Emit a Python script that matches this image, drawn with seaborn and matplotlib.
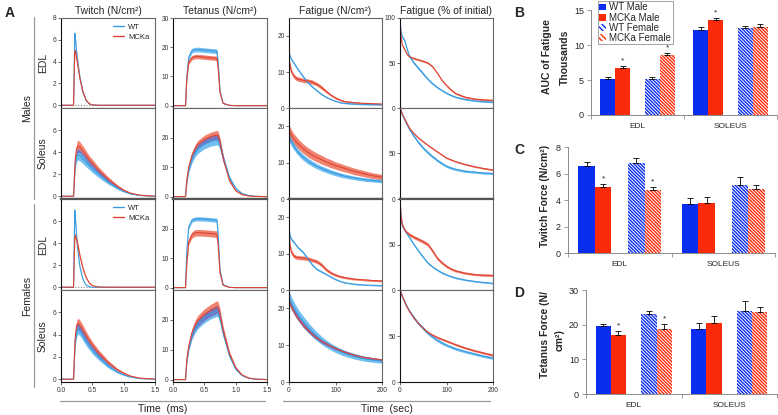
import numpy as np
import pandas as pd
import matplotlib
matplotlib.use("Agg")
import matplotlib.pyplot as plt
from matplotlib.lines import Line2D
from matplotlib.patches import Patch
import seaborn as sns

W, H = 778, 415

# ---------------- panel A : time grids ----------------
t_tw = [0, 0.2, 0.21, 0.22, 0.23, 0.25, 0.27, 0.3, 0.35, 0.4, 0.45, 0.5, 0.6, 0.75, 0.9, 1.0, 1.1, 1.25, 1.5]
t_tet = [0, 0.2, 0.22, 0.25, 0.3, 0.35, 0.4, 0.5, 0.6, 0.7, 0.72, 0.75, 0.8, 0.9, 1.0, 1.1, 1.2, 1.3, 1.5]
t_fat = [0, 2, 5, 10, 15, 20, 30, 40, 50, 60, 70, 80, 90, 100, 110, 120, 140, 160, 180, 200]

# twitch (N/cm2)
wt_tw_edl_m = [0, 0, 3.0, 6.6, 6.1, 4.8, 3.9, 2.6, 1.2, 0.45, 0.12, 0.03, 0, 0, 0, 0, 0, 0, 0]
wt_tw_edl_m_sd = [0, 0, 0.15, 0.2, 0.2, 0.15, 0.12, 0.1, 0.06, 0.03, 0.02, 0, 0, 0, 0, 0, 0, 0, 0]
mk_tw_edl_m = [0, 0, 2.5, 4.9, 5.0, 4.3, 3.6, 2.5, 1.2, 0.5, 0.15, 0.04, 0, 0, 0, 0, 0, 0, 0]
mk_tw_edl_m_sd = [0, 0, 0.15, 0.2, 0.2, 0.17, 0.15, 0.1, 0.06, 0.03, 0.02, 0, 0, 0, 0, 0, 0, 0, 0]

wt_tw_sol_m = [0, 0, 1.0, 2.2, 3.0, 3.6, 3.8, 3.7, 3.4, 3.1, 2.8, 2.5, 2.0, 1.3, 0.75, 0.45, 0.25, 0.08, 0]
wt_tw_sol_m_sd = [0, 0, 0.15, 0.3, 0.4, 0.5, 0.5, 0.5, 0.45, 0.42, 0.38, 0.35, 0.3, 0.2, 0.12, 0.08, 0.05, 0.02, 0]
mk_tw_sol_m = [0, 0, 1.2, 2.6, 3.5, 4.3, 4.55, 4.45, 4.1, 3.7, 3.3, 3.0, 2.35, 1.55, 0.9, 0.55, 0.3, 0.1, 0]
mk_tw_sol_m_sd = [0, 0, 0.15, 0.3, 0.4, 0.5, 0.55, 0.5, 0.45, 0.42, 0.38, 0.35, 0.3, 0.22, 0.14, 0.09, 0.05, 0.02, 0]

wt_tw_edl_f = [0, 0, 3.5, 7.0, 6.3, 4.5, 3.3, 1.9, 0.7, 0.2, 0.05, 0, 0, 0, 0, 0, 0, 0, 0]
wt_tw_edl_f_sd = [0, 0, 0.15, 0.2, 0.2, 0.15, 0.12, 0.1, 0.05, 0.02, 0.01, 0, 0, 0, 0, 0, 0, 0, 0]
mk_tw_edl_f = [0, 0, 2.3, 4.5, 4.7, 4.3, 3.8, 2.9, 1.7, 0.9, 0.4, 0.15, 0.02, 0, 0, 0, 0, 0, 0]
mk_tw_edl_f_sd = [0, 0, 0.15, 0.25, 0.25, 0.22, 0.2, 0.17, 0.12, 0.08, 0.05, 0.02, 0, 0, 0, 0, 0, 0, 0]

wt_tw_sol_f = [0, 0, 1.2, 2.6, 3.5, 4.2, 4.5, 4.35, 3.9, 3.4, 3.0, 2.6, 2.0, 1.2, 0.65, 0.4, 0.22, 0.07, 0]
wt_tw_sol_f_sd = [0, 0, 0.15, 0.3, 0.4, 0.45, 0.45, 0.45, 0.42, 0.38, 0.35, 0.32, 0.27, 0.18, 0.1, 0.07, 0.04, 0.02, 0]
mk_tw_sol_f = [0, 0, 1.4, 3.0, 4.0, 4.8, 5.0, 4.85, 4.4, 3.9, 3.45, 3.05, 2.35, 1.5, 0.85, 0.55, 0.3, 0.1, 0]
mk_tw_sol_f_sd = [0, 0, 0.15, 0.3, 0.4, 0.45, 0.48, 0.47, 0.44, 0.4, 0.37, 0.33, 0.28, 0.2, 0.12, 0.08, 0.05, 0.02, 0]

# tetanus (N/cm2)
wt_tet_edl_m = [0, 0, 10.0, 16.5, 18.8, 19.2, 19.2, 19.0, 18.8, 18.6, 15.0, 5.0, 0.8, 0.1, 0, 0, 0, 0, 0]
wt_tet_edl_m_sd = [0, 0, 0.5, 0.8, 0.8, 0.8, 0.8, 0.8, 0.8, 0.8, 0.6, 0.2, 0.05, 0, 0, 0, 0, 0, 0]
mk_tet_edl_m = [0, 0, 9.0, 14.8, 16.4, 16.8, 16.8, 16.6, 16.4, 16.2, 13.0, 4.5, 0.8, 0.1, 0, 0, 0, 0, 0]
mk_tet_edl_m_sd = [0, 0, 0.4, 0.7, 0.75, 0.75, 0.75, 0.75, 0.75, 0.75, 0.6, 0.2, 0.05, 0, 0, 0, 0, 0, 0]

wt_tet_sol_m = [0, 0, 5.0, 9.0, 12.5, 14.8, 16.2, 17.8, 18.8, 19.2, 19.0, 17.5, 13.0, 6.5, 2.8, 1.1, 0.45, 0.15, 0]
wt_tet_sol_m_sd = [0, 0, 0.5, 0.9, 1.2, 1.4, 1.5, 1.6, 1.7, 1.7, 1.7, 1.6, 1.2, 0.6, 0.3, 0.12, 0.05, 0.02, 0]
mk_tet_sol_m = [0, 0, 5.5, 10.0, 13.8, 16.2, 17.7, 19.3, 20.3, 20.9, 20.6, 18.5, 13.0, 5.5, 2.0, 0.7, 0.25, 0.08, 0]
mk_tet_sol_m_sd = [0, 0, 0.5, 0.9, 1.2, 1.3, 1.4, 1.5, 1.5, 1.5, 1.5, 1.4, 1.0, 0.5, 0.2, 0.08, 0.03, 0.01, 0]

wt_tet_edl_f = [0, 0, 12.0, 20.5, 22.8, 23.2, 23.3, 23.2, 23.0, 22.8, 18.0, 6.0, 1.0, 0.1, 0, 0, 0, 0, 0]
wt_tet_edl_f_sd = [0, 0, 0.5, 0.7, 0.7, 0.7, 0.7, 0.7, 0.7, 0.7, 0.6, 0.2, 0.05, 0, 0, 0, 0, 0, 0]
mk_tet_edl_f = [0, 0, 8.0, 15.5, 17.8, 18.5, 18.6, 18.5, 18.3, 18.1, 14.5, 5.0, 0.8, 0.1, 0, 0, 0, 0, 0]
mk_tet_edl_f_sd = [0, 0, 0.6, 1.0, 1.1, 1.1, 1.1, 1.1, 1.1, 1.1, 0.9, 0.3, 0.05, 0, 0, 0, 0, 0, 0]

wt_tet_sol_f = [0, 0, 6.0, 10.5, 14.5, 17.0, 18.6, 20.6, 22.0, 23.0, 22.6, 20.5, 15.5, 8.0, 3.5, 1.4, 0.5, 0.2, 0]
wt_tet_sol_f_sd = [0, 0, 0.5, 0.9, 1.2, 1.4, 1.5, 1.6, 1.7, 1.8, 1.8, 1.6, 1.2, 0.6, 0.3, 0.12, 0.05, 0.02, 0]
mk_tet_sol_f = [0, 0, 6.5, 11.2, 15.5, 18.2, 19.8, 21.8, 23.2, 24.3, 24.0, 21.8, 16.5, 8.8, 4.0, 1.6, 0.6, 0.2, 0]
mk_tet_sol_f_sd = [0, 0, 0.5, 1.0, 1.4, 1.6, 1.8, 1.9, 2.0, 2.1, 2.1, 1.9, 1.4, 0.7, 0.35, 0.15, 0.06, 0.02, 0]

# fatigue (N/cm2)
wt_fn_edl_m = [15.5, 14.5, 13.6, 12.6, 11.6, 10.6, 8.8, 7.2, 5.9, 4.8, 3.8, 3.0, 2.4, 1.9, 1.5, 1.3, 1.1, 1.0, 0.95, 0.9]
wt_fn_edl_m_sd = [0.5, 0.4, 0.35, 0.3, 0.3, 0.3, 0.3, 0.3, 0.25, 0.25, 0.2, 0.2, 0.15, 0.15, 0.15, 0.15, 0.15, 0.15, 0.15, 0.15]
mk_fn_edl_m = [14.0, 12.0, 10.2, 8.9, 8.3, 8.0, 7.7, 7.5, 7.2, 6.6, 5.7, 4.6, 3.6, 2.8, 2.2, 1.8, 1.5, 1.3, 1.2, 1.1]
mk_fn_edl_m_sd = [0.6, 0.7, 0.7, 0.6, 0.6, 0.6, 0.6, 0.6, 0.6, 0.5, 0.5, 0.4, 0.3, 0.3, 0.25, 0.2, 0.2, 0.2, 0.2, 0.2]

wt_fn_sol_m = [17.0, 16.4, 15.6, 14.5, 13.6, 12.8, 11.5, 10.5, 9.7, 9.0, 8.4, 7.9, 7.4, 7.0, 6.6, 6.3, 5.8, 5.4, 5.1, 4.9]
wt_fn_sol_m_sd = [1.0, 1.0, 0.95, 0.9, 0.9, 0.85, 0.8, 0.8, 0.75, 0.7, 0.7, 0.65, 0.65, 0.6, 0.6, 0.55, 0.5, 0.5, 0.45, 0.45]
mk_fn_sol_m = [19.0, 18.4, 17.6, 16.6, 15.8, 15.1, 13.9, 12.9, 12.1, 11.4, 10.8, 10.2, 9.7, 9.2, 8.8, 8.4, 7.6, 7.0, 6.4, 6.0]
mk_fn_sol_m_sd = [1.5, 1.5, 1.45, 1.4, 1.4, 1.35, 1.3, 1.3, 1.25, 1.2, 1.2, 1.1, 1.1, 1.0, 1.0, 0.95, 0.9, 0.85, 0.8, 0.75]

wt_fn_edl_f = [17.0, 15.0, 14.0, 13.2, 12.4, 11.6, 10.4, 8.7, 6.9, 5.7, 5.0, 4.3, 3.6, 2.9, 2.4, 2.0, 1.6, 1.4, 1.3, 1.2]
wt_fn_edl_f_sd = [0.5, 0.4, 0.35, 0.3, 0.3, 0.3, 0.3, 0.3, 0.3, 0.25, 0.25, 0.2, 0.2, 0.2, 0.15, 0.15, 0.15, 0.15, 0.15, 0.15]
mk_fn_edl_f = [16.0, 12.5, 10.5, 9.4, 9.0, 8.9, 8.8, 8.6, 8.2, 7.8, 6.9, 5.6, 4.7, 4.1, 3.7, 3.4, 3.0, 2.8, 2.6, 2.5]
mk_fn_edl_f_sd = [0.6, 0.6, 0.6, 0.55, 0.55, 0.55, 0.55, 0.55, 0.5, 0.5, 0.5, 0.45, 0.4, 0.35, 0.3, 0.3, 0.25, 0.25, 0.25, 0.25]

wt_fn_sol_f = [23.0, 22.4, 21.5, 20.3, 19.2, 18.2, 16.5, 15.0, 13.6, 12.4, 11.3, 10.4, 9.6, 8.9, 8.3, 7.8, 7.0, 6.4, 6.0, 5.7]
wt_fn_sol_f_sd = [1.7, 1.7, 1.7, 1.6, 1.6, 1.5, 1.5, 1.4, 1.3, 1.2, 1.1, 1.0, 0.95, 0.9, 0.85, 0.8, 0.75, 0.7, 0.65, 0.6]
mk_fn_sol_f = [22.0, 21.4, 20.5, 19.3, 18.2, 17.2, 15.6, 14.2, 13.0, 12.0, 11.1, 10.4, 9.7, 9.1, 8.6, 8.1, 7.3, 6.7, 6.3, 6.0]
mk_fn_sol_f_sd = [0.8, 0.8, 0.75, 0.7, 0.7, 0.65, 0.6, 0.55, 0.5, 0.5, 0.45, 0.45, 0.4, 0.4, 0.35, 0.35, 0.3, 0.3, 0.3, 0.3]

# fatigue (% of initial)
wt_fp_edl_m = [100, 85, 79, 75, 66, 58, 50, 44, 38, 32, 27, 23, 19.5, 16.5, 14, 12, 9.5, 8, 7, 6.5]
wt_fp_edl_m_sd = [1.0, 1.5, 1.5, 1.5, 1.5, 1.5, 1.5, 1.5, 1.5, 1.3, 1.2, 1.1, 1.0, 1.0, 0.9, 0.9, 0.8, 0.8, 0.8, 0.8]
mk_fp_edl_m = [100, 80, 70, 65, 60, 57, 55, 53.5, 52, 50, 46, 39, 31, 25, 20, 16, 12, 10, 9, 8.5]
mk_fp_edl_m_sd = [1.0, 1.0, 1.0, 1.0, 1.0, 1.0, 1.0, 1.0, 1.0, 1.0, 1.0, 1.0, 1.0, 1.0, 1.0, 1.0, 1.0, 1.0, 1.0, 1.0]

wt_fp_sol_m = [100, 97, 93, 87, 82, 77, 69, 62, 56, 51, 46.5, 42.5, 39, 36, 34, 32.5, 30.5, 29.5, 28.5, 28]
wt_fp_sol_m_sd = [0.5, 1.0, 1.2, 1.5, 1.5, 1.6, 1.6, 1.6, 1.6, 1.6, 1.5, 1.5, 1.5, 1.4, 1.4, 1.3, 1.3, 1.2, 1.2, 1.2]
mk_fp_sol_m = [100, 97, 93, 88, 83, 78, 72, 67, 63, 59, 55.5, 52, 48.5, 45, 43, 41, 38, 35.5, 33.5, 32]
mk_fp_sol_m_sd = [0.5, 0.8, 0.8, 0.8, 0.8, 0.8, 0.8, 0.8, 0.8, 0.8, 0.8, 0.8, 0.8, 0.8, 0.8, 0.8, 0.8, 0.8, 0.8, 0.8]

wt_fp_edl_f = [100, 80, 70, 66, 62, 58, 50, 42.7, 36, 29.6, 25.5, 22, 19, 16.7, 14.8, 13.2, 11, 9.5, 8.3, 7.4]
wt_fp_edl_f_sd = [1.0, 1.2, 1.2, 1.2, 1.2, 1.2, 1.2, 1.2, 1.2, 1.1, 1.0, 1.0, 1.0, 0.9, 0.9, 0.9, 0.8, 0.8, 0.8, 0.8]
mk_fp_edl_f = [100, 82, 72, 66, 63, 61, 58, 55.6, 53, 50, 43, 35, 30, 26, 23, 21, 18.5, 17, 16.3, 16]
mk_fp_edl_f_sd = [1.5, 1.8, 1.8, 1.8, 1.8, 1.8, 1.8, 1.8, 1.8, 1.8, 1.8, 1.7, 1.6, 1.5, 1.4, 1.3, 1.2, 1.2, 1.2, 1.2]

wt_fp_sol_f = [100, 97, 93, 87, 82, 77.5, 70, 63.5, 58, 53, 49, 45.5, 42.5, 40, 38, 36, 33, 30.5, 28, 26]
wt_fp_sol_f_sd = [0.5, 1.0, 1.2, 1.4, 1.5, 1.5, 1.6, 1.6, 1.6, 1.6, 1.6, 1.6, 1.6, 1.5, 1.5, 1.5, 1.4, 1.4, 1.4, 1.4]
mk_fp_sol_f = [100, 97, 93, 87, 81.5, 77, 69.5, 63.5, 58.5, 54, 51, 48.5, 46.5, 44.5, 42.5, 40.5, 37, 34, 31.5, 29]
mk_fp_sol_f_sd = [0.5, 0.8, 0.9, 1.0, 1.0, 1.0, 1.0, 1.0, 1.0, 1.1, 1.1, 1.2, 1.2, 1.2, 1.2, 1.2, 1.2, 1.2, 1.2, 1.2]

# ---------------- panels B-D : bar data ----------------
groups = ["WT Male", "MCKa Male", "WT Female", "MCKa Female"]
muscles = ["EDL", "SOLEUS"]

auc_edl = [5.2, 6.7, 5.2, 8.5]
auc_edl_err = [0.2, 0.25, 0.25, 0.35]
auc_sol = [12.1, 13.6, 12.4, 12.6]
auc_sol_err = [0.4, 0.2, 0.3, 0.4]
auc_star_edl = [False, True, False, True]
auc_star_sol = [False, True, False, False]

twf_edl = [6.6, 4.95, 6.8, 4.75]
twf_edl_err = [0.3, 0.25, 0.35, 0.25]
twf_sol = [3.7, 3.8, 5.1, 4.8]
twf_sol_err = [0.45, 0.45, 0.6, 0.3]
twf_star_edl = [False, True, False, True]
twf_star_sol = [False, False, False, False]

tet_edl = [19.6, 17.1, 23.1, 18.7]
tet_edl_err = [0.5, 1.0, 0.7, 1.4]
tet_sol = [18.8, 20.6, 23.9, 23.6]
tet_sol_err = [1.8, 2.0, 2.9, 1.4]
tet_star_edl = [False, True, False, True]
tet_star_sol = [False, False, False, False]

# ---------------- style ----------------
sns.set_theme(style="ticks")
plt.rcParams["font.family"] = ["Liberation Sans", "DejaVu Sans"]
plt.rcParams["hatch.linewidth"] = 1.0

BLUE, BLUE_BAND = "#3b9be0", "#62b8ef"
RED, RED_BAND = "#dd4433", "#ef7460"
PURPLE = "#7a69b8"
BAR_BLUE, BAR_RED = "#0a2df0", "#fb2b0a"
HATCH = "\\" * 10


def rect(x0, y0, x1, y1):
    return [x0 / W, 1 - y1 / H, (x1 - x0) / W, (y1 - y0) / H]


fig = plt.figure(figsize=(W / 100, H / 100), dpi=100)

col_x = [(61, 155), (173, 267), (289, 382), (400, 493)]
row_y = [(18, 108), (108, 199), (199, 290), (290, 382)]

panels = [
    [(t_tw, wt_tw_edl_m, wt_tw_edl_m_sd, mk_tw_edl_m, mk_tw_edl_m_sd),
     (t_tet, wt_tet_edl_m, wt_tet_edl_m_sd, mk_tet_edl_m, mk_tet_edl_m_sd),
     (t_fat, wt_fn_edl_m, wt_fn_edl_m_sd, mk_fn_edl_m, mk_fn_edl_m_sd),
     (t_fat, wt_fp_edl_m, wt_fp_edl_m_sd, mk_fp_edl_m, mk_fp_edl_m_sd)],
    [(t_tw, wt_tw_sol_m, wt_tw_sol_m_sd, mk_tw_sol_m, mk_tw_sol_m_sd),
     (t_tet, wt_tet_sol_m, wt_tet_sol_m_sd, mk_tet_sol_m, mk_tet_sol_m_sd),
     (t_fat, wt_fn_sol_m, wt_fn_sol_m_sd, mk_fn_sol_m, mk_fn_sol_m_sd),
     (t_fat, wt_fp_sol_m, wt_fp_sol_m_sd, mk_fp_sol_m, mk_fp_sol_m_sd)],
    [(t_tw, wt_tw_edl_f, wt_tw_edl_f_sd, mk_tw_edl_f, mk_tw_edl_f_sd),
     (t_tet, wt_tet_edl_f, wt_tet_edl_f_sd, mk_tet_edl_f, mk_tet_edl_f_sd),
     (t_fat, wt_fn_edl_f, wt_fn_edl_f_sd, mk_fn_edl_f, mk_fn_edl_f_sd),
     (t_fat, wt_fp_edl_f, wt_fp_edl_f_sd, mk_fp_edl_f, mk_fp_edl_f_sd)],
    [(t_tw, wt_tw_sol_f, wt_tw_sol_f_sd, mk_tw_sol_f, mk_tw_sol_f_sd),
     (t_tet, wt_tet_sol_f, wt_tet_sol_f_sd, mk_tet_sol_f, mk_tet_sol_f_sd),
     (t_fat, wt_fn_sol_f, wt_fn_sol_f_sd, mk_fn_sol_f, mk_fn_sol_f_sd),
     (t_fat, wt_fp_sol_f, wt_fp_sol_f_sd, mk_fp_sol_f, mk_fp_sol_f_sd)],
]

col_xlim = [(0, 1.5), (0, 1.5), (0, 200), (0, 200)]
col_ylim = [(-0.25, 8), (-0.8, 30), (0, 25), (0, 100)]
col_yticks_top = [[0, 2, 4, 6, 8], [0, 10, 20, 30], [0, 10, 20], [0, 50, 100]]
col_yticks = [[0, 2, 4, 6], [0, 10, 20], [0, 10, 20], [0, 50]]
col_xticks = [[0, 0.5, 1.0, 1.5], [0, 0.5, 1.0, 1.5], [0, 100, 200], [0, 100, 200]]
titles = ["Twitch (N/cm²)", "Tetanus (N/cm²)", "Fatigue (N/cm²)", "Fatigue (% of initial)"]

for r in range(4):
    for c in range(4):
        x0, x1 = col_x[c]
        y0, y1 = row_y[r]
        ax = fig.add_axes(rect(x0, y0, x1, y1))
        t, wt, wsd, mk, msd = panels[r][c]
        t = np.array(t, float)
        wt, wsd = np.array(wt, float), np.array(wsd, float)
        mk, msd = np.array(mk, float), np.array(msd, float)
        ax.fill_between(t, mk - msd, mk + msd, color=RED_BAND, lw=0, alpha=0.9)
        ax.fill_between(t, wt - wsd, wt + wsd, color=BLUE_BAND, lw=0, alpha=0.9)
        lo = np.maximum(mk - msd, wt - wsd)
        hi = np.minimum(mk + msd, wt + wsd)
        ax.fill_between(t, lo, hi, where=hi > lo, color=PURPLE, lw=0, alpha=0.85)
        if c == 0 and r in (0, 2):
            ax.axhline(0, color="#888888", ls=(0, (1, 1.5)), lw=0.8, zorder=1)
        sns.lineplot(x=t, y=wt, color=BLUE, lw=0.8, ax=ax, estimator=None, legend=False)
        sns.lineplot(x=t, y=mk, color=RED, lw=0.8, ax=ax, estimator=None, legend=False)
        ax.set_xlim(col_xlim[c])
        ax.set_ylim(col_ylim[c])
        ax.set_yticks(col_yticks_top[c] if r == 0 else col_yticks[c])
        ax.set_xticks(col_xticks[c])
        ax.set_xlabel("")
        ax.set_ylabel("")
        ax.tick_params(axis="y", labelsize=4.8, length=2, width=0.5, pad=1, colors="#333333")
        if r == 3:
            ax.set_xticklabels(["0.0", "0.5", "1.0", "1.5"] if c < 2 else ["0", "100", "200"])
            ax.tick_params(axis="x", labelsize=4.8, length=2, width=0.5, pad=1.5, colors="#333333")
        else:
            ax.tick_params(axis="x", length=0, labelbottom=False)
        for side in ["left", "bottom"]:
            ax.spines[side].set_color("#111111")
            ax.spines[side].set_linewidth(0.8)
        for side in ["top", "right"]:
            ax.spines[side].set_visible(True)
            ax.spines[side].set_color("#666666")
            ax.spines[side].set_linewidth(0.8)
        if r == 1:
            ax.spines["bottom"].set_color("#555555")
            ax.spines["bottom"].set_linewidth(1.6)
        if r == 2:
            ax.spines["top"].set_color("#555555")
            ax.spines["top"].set_linewidth(1.6)
        if r == 0:
            ax.set_title(titles[c], fontsize=7.5, pad=3)
        if c == 0 and r in (0, 2):
            handles = [Line2D([], [], color=BLUE, lw=1), Line2D([], [], color=RED, lw=1)]
            ax.legend(handles, ["WT", "MCKa"], loc="upper right", frameon=False,
                      fontsize=5.5, handlelength=1.4, handletextpad=0.6,
                      labelspacing=0.4, borderaxespad=0.3)

# row and group labels
for r, name in enumerate(["EDL", "Soleus", "EDL", "Soleus"]):
    yc = (row_y[r][0] + row_y[r][1]) / 2
    fig.text(43 / W, 1 - yc / H, name, rotation=90, ha="center", va="center", fontsize=7.5)
for name, (ya, yb) in [("Males", (17, 199)), ("Females", (204, 387))]:
    fig.add_artist(Line2D([34 / W, 34 / W], [1 - ya / H, 1 - yb / H], color="#999999", lw=0.9))
    fig.text(27 / W, 1 - (ya + yb) / 2 / H, name, rotation=90, ha="center", va="center", fontsize=7.5)
for name, (xa, xb) in [("Time  (ms)", (60, 265)), ("Time  (sec)", (283, 490))]:
    fig.add_artist(Line2D([xa / W, xb / W], [1 - 401 / H, 1 - 401 / H], color="#999999", lw=0.9))
    fig.text((xa + xb) / 2 / W, 1 - 409 / H, name, ha="center", va="center", fontsize=7.5)

fig.text(5 / W, 1 - 13 / H, "A", fontsize=10, fontweight="bold", va="center")

# ---------------- bar panels ----------------
hue_order = ["WT Male", "MCKa Male", " ", "WT Female", "MCKa Female"]
pal = {"WT Male": BAR_BLUE, "MCKa Male": BAR_RED, " ": "white",
       "WT Female": BAR_BLUE, "MCKa Female": BAR_RED}
offsets = {"WT Male": -0.32, "MCKa Male": -0.16, "WT Female": 0.16, "MCKa Female": 0.32}

bar_specs = [
    ((591, 10, 777, 115), auc_edl, auc_edl_err, auc_sol, auc_sol_err, auc_star_edl, auc_star_sol,
     (0, 15), [0, 5, 10, 15], "B", 13),
    ((568, 147, 775, 253), twf_edl, twf_edl_err, twf_sol, twf_sol_err, twf_star_edl, twf_star_sol,
     (0, 8), [0, 2, 4, 6, 8], "C", 150),
    ((586, 290, 777, 394), tet_edl, tet_edl_err, tet_sol, tet_sol_err, tet_star_edl, tet_star_sol,
     (0, 30), [0, 10, 20, 30], "D", 293),
]

for box, v_edl, e_edl, v_sol, e_sol, s_edl, s_sol, ylim, yticks, letter, ly in bar_specs:
    ax = fig.add_axes(rect(*box))
    df = pd.DataFrame({
        "muscle": ["EDL"] * 4 + ["SOLEUS"] * 4,
        "group": groups * 2,
        "value": v_edl + v_sol,
        "err": e_edl + e_sol,
        "star": s_edl + s_sol,
    })
    sns.barplot(data=df, x="muscle", y="value", hue="group", hue_order=hue_order,
                order=muscles, palette=pal, saturation=1, width=0.8, errorbar=None,
                legend=False, ax=ax)
    for p in ax.patches:
        xc = p.get_x() + p.get_width() / 2
        off = xc - round(xc)
        p.set_linewidth(0)
        if off > 0.05:
            # female bars are hatched on white
            col = BAR_BLUE if abs(off - 0.16) < 0.05 else BAR_RED
            p.set_facecolor("white")
            p.set_hatch(HATCH)
            p.set_edgecolor(col)
    xs = [muscles.index(m) + offsets[g] for m, g in zip(df["muscle"], df["group"])]
    ax.errorbar(xs, df["value"], yerr=[np.zeros(len(df)), df["err"]], fmt="none",
                ecolor="black", elinewidth=0.6, capsize=2, capthick=0.6, zorder=5)
    for x, v, e, s in zip(xs, df["value"], df["err"], df["star"]):
        if s:
            ax.text(x, v + e + (ylim[1] * 0.015), "*", ha="center", va="bottom", fontsize=6)
    ax.set_xlim(-0.5, 1.5)
    ax.set_ylim(ylim)
    ax.set_yticks(yticks)
    ax.set_xlabel("")
    ax.set_ylabel("")
    sns.despine(ax=ax)
    ax.spines["left"].set_color("#8a8a8a")
    ax.spines["bottom"].set_color("#8a8a8a")
    ax.spines["left"].set_linewidth(0.7)
    ax.spines["bottom"].set_linewidth(0.7)
    ax.tick_params(axis="y", labelsize=6.5, length=3, width=0.6, color="#8a8a8a", pad=2)
    ax.set_xticks([0, 1])
    ax.set_xticks([-0.5, 0.5, 1.5], minor=True)
    ax.tick_params(axis="x", which="major", length=0, labelsize=6, pad=6)
    ax.tick_params(axis="x", which="minor", length=3, width=0.6, color="#8a8a8a")
    fig.text(514 / W, 1 - ly / H, letter, fontsize=10, fontweight="bold", va="center")

yc = 1 - 57 / H
fig.text(547 / W, yc, "AUC of Fatigue", rotation=90, ha="center", va="center", fontsize=7.5, fontweight="bold")
fig.text(565 / W, yc, "Thousands", rotation=90, ha="center", va="center", fontsize=7.5, fontweight="bold")
fig.text(545 / W, 1 - 196 / H, "Twitch Force (N/cm²)", rotation=90, ha="center", va="center",
         fontsize=7.5, fontweight="bold")
fig.text(545 / W, 1 - 334 / H, "Tetanus Force (N/", rotation=90, ha="center", va="center",
         fontsize=7.5, fontweight="bold")
fig.text(560 / W, 1 - 340 / H, "cm²)", rotation=90, ha="center", va="center",
         fontsize=7.5, fontweight="bold")

leg_handles = [
    Patch(facecolor=BAR_BLUE, edgecolor=BAR_BLUE, lw=0),
    Patch(facecolor=BAR_RED, edgecolor=BAR_RED, lw=0),
    Patch(facecolor="white", edgecolor=BAR_BLUE, hatch="\\" * 6, lw=0),
    Patch(facecolor="white", edgecolor=BAR_RED, hatch="\\" * 6, lw=0),
]
leg = fig.legend(leg_handles, groups, loc="upper left", bbox_to_anchor=(598 / W, 1 - 1 / H),
                 fontsize=7, frameon=True, fancybox=False, handlelength=0.7, handleheight=0.7,
                 handletextpad=0.3, labelspacing=0.02, borderpad=0.15, borderaxespad=0)
leg.get_frame().set_edgecolor("#777777")
leg.get_frame().set_linewidth(0.6)

fig.savefig("out.png", dpi=100)
